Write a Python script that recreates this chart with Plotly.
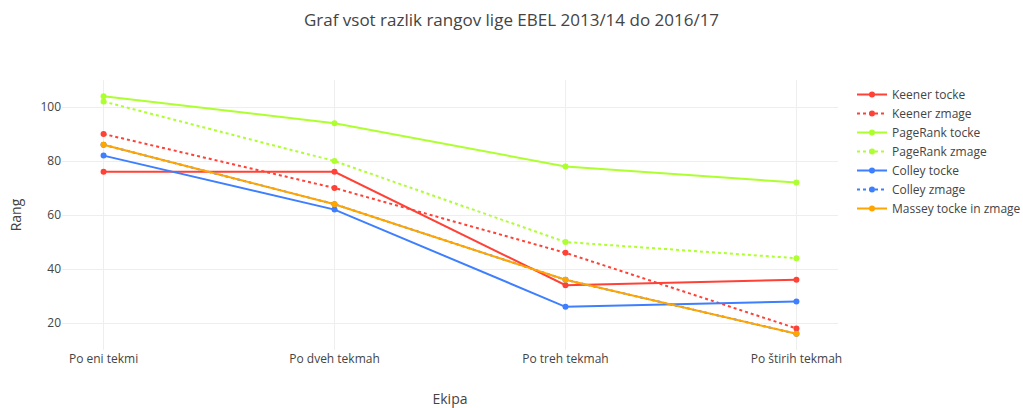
import plotly.graph_objects as go

categories = ["Po eni tekmi", "Po dveh tekmah", "Po treh tekmah", "Po štirih tekmah"]
keener_tocke = [76, 76, 34, 36]
keener_zmage = [90, 70, 46, 18]
pagerank_tocke = [104, 94, 78, 72]
pagerank_zmage = [102, 80, 50, 44]
colley_tocke = [82, 62, 26, 28]
colley_zmage = [86, 64, 36, 16]
massey = [86, 64, 36, 16]

series = [
    ("Keener tocke", keener_tocke, "#FF4136", "solid"),
    ("Keener zmage", keener_zmage, "#FF4136", "dot"),
    ("PageRank tocke", pagerank_tocke, "#ADFF2F", "solid"),
    ("PageRank zmage", pagerank_zmage, "#ADFF2F", "dot"),
    ("Colley tocke", colley_tocke, "#3D7FFF", "solid"),
    ("Colley zmage", colley_zmage, "#3D7FFF", "dot"),
    ("Massey tocke in zmage", massey, "#FFA500", "solid"),
]

fig = go.Figure()
for name, vals, color, dash in series:
    fig.add_trace(go.Scatter(
        x=categories, y=vals, name=name, mode="lines+markers",
        line=dict(color=color, width=2, dash=dash),
        marker=dict(color=color, size=6),
    ))

fig.update_layout(
    width=1023, height=408,
    template="plotly_white",
    font=dict(family="Open Sans, sans-serif", color="#444", size=12),
    title=dict(text="Graf vsot razlik rangov lige EBEL 2013/14 do 2016/17",
               x=0.5, xref="container", xanchor="center",
               y=1 - 20 / 408, yref="container", yanchor="middle",
               font=dict(size=17)),
    margin=dict(l=62, r=185, t=80, b=58, autoexpand=False),
    xaxis=dict(title=dict(text="Ekipa", standoff=30), showline=False, zeroline=False,
               gridcolor="#eee", range=[-0.18, 3.18]),
    yaxis=dict(title=dict(text="Rang"), range=[10, 110], showline=False,
               zeroline=False, gridcolor="#eee", dtick=20),
    legend=dict(font=dict(size=12), xref="container", x=852 / 1023, y=1,
                xanchor="left", yanchor="top"),
    plot_bgcolor="white", paper_bgcolor="white",
)

fig.write_html("out.html", config={"displayModeBar": False},
               post_script="document.body.style.margin='0px';")
